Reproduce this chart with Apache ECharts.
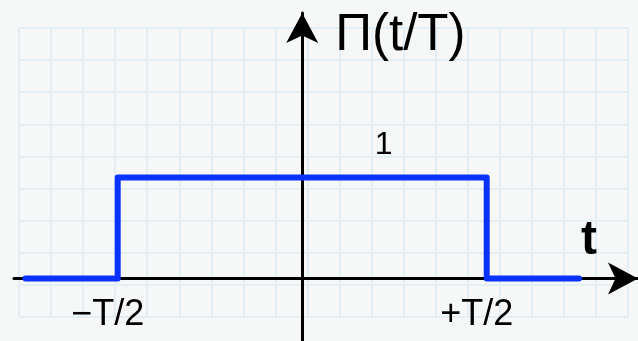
<!DOCTYPE html>
<html>
<head>
<meta charset="utf-8">
<script src="https://cdn.jsdelivr.net/npm/echarts@6/dist/echarts.min.js"></script>
<style>
html,body{margin:0;padding:0;background:#f6f8f8;}
#chart{width:638px;height:341px;}
</style>
</head>
<body>
<div id="chart"></div>
<script>
// Rectangle function Π(t/T), with T = 1
const tValues = [-0.75, -0.5, -0.5, 0.5, 0.5, 0.75];
const pulseValues = [0, 0, 1, 1, 0, 0];
const tickValues = [-0.5, 0.5];
const tickLabels = ['\u2212T/2', '+T/2'];
const levelX = [0.221];
const levelY = [1];
const levelText = ['1'];
const xAxisName = 't';
const yAxisName = '\u03A0(t/T)';

const FONT = '"Liberation Sans", Arial, Helvetica, sans-serif';

const chart = echarts.init(document.getElementById('chart'), null, {renderer: 'canvas'});

const pulseData = tValues.map((t, i) => [t, pulseValues[i]]);
const levelData = levelX.map((x, i) => [x, levelY[i], levelText[i]]);
const tickData = tickValues.map((v, i) => [v, 0, tickLabels[i]]);

const option = {
  backgroundColor: '#f6f8f8',
  animation: false,
  grid: [
    {left: 14, right: 0, top: 13, bottom: 0, containLabel: false, outerBoundsMode: 'none'},
    {left: 19, right: 10, top: 28, bottom: 24, containLabel: false, outerBoundsMode: 'none'}
  ],
  xAxis: [
    {
      type: 'value', gridIndex: 0, min: -0.781, max: 0.910, z: 1,
      axisLine: {show: true, onZero: true, symbol: ['none', 'arrow'], symbolSize: [24, 30],
        lineStyle: {color: '#000', width: 3}},
      axisTick: {show: false},
      splitLine: {show: false},
      axisLabel: {show: false},
      name: xAxisName, nameLocation: 'end', nameGap: -57,
      nameTextStyle: {fontFamily: FONT, fontSize: 48, fontWeight: 'bold', lineHeight: 48,
        color: '#000', align: 'left', verticalAlign: 'bottom', padding: [0, 0, 14, 0]}
    },
    {
      type: 'value', gridIndex: 1, min: 0, max: 19, interval: 1, z: 0,
      axisLine: {show: false}, axisTick: {show: false}, axisLabel: {show: false},
      splitLine: {show: true, lineStyle: {color: '#e3eff5', width: 2}}
    }
  ],
  yAxis: [
    {
      type: 'value', gridIndex: 0, min: -0.619, max: 2.629, z: 1,
      axisLine: {show: true, onZero: true, symbol: ['none', 'arrow'], symbolSize: [24, 30],
        lineStyle: {color: '#000', width: 3}},
      axisTick: {show: false},
      splitLine: {show: false},
      axisLabel: {show: false},
      name: yAxisName, nameLocation: 'end', nameGap: 3,
      nameTextStyle: {fontFamily: FONT, fontSize: 51, lineHeight: 51, color: '#000',
        align: 'left', verticalAlign: 'top', padding: [0, 0, 0, 33]}
    },
    {
      type: 'value', gridIndex: 1, min: 0, max: 9, interval: 1, inverse: true, z: 0,
      axisLine: {show: false}, axisTick: {show: false}, axisLabel: {show: false},
      splitLine: {show: true, lineStyle: {color: '#e3eff5', width: 2}}
    }
  ],
  series: [
    {
      type: 'line', xAxisIndex: 0, yAxisIndex: 0, data: pulseData,
      showSymbol: false, symbol: 'none', z: 3,
      lineStyle: {color: '#0a32ff', width: 6, cap: 'round', join: 'round'}
    },
    {
      type: 'scatter', xAxisIndex: 0, yAxisIndex: 0, data: levelData,
      symbolSize: 0, z: 4, silent: true,
      itemStyle: {color: '#000', opacity: 1},
      label: {show: true, position: 'top', distance: 16, formatter: p => p.data[2],
        fontFamily: FONT, fontSize: 32, lineHeight: 32, color: '#000', opacity: 1}
    },
    {
      type: 'scatter', xAxisIndex: 0, yAxisIndex: 0, data: tickData,
      symbolSize: 0, z: 4, silent: true,
      itemStyle: {color: '#000', opacity: 1},
      label: {show: true, position: 'bottom', distance: 19, offset: [-10, 0],
        formatter: p => p.data[2],
        fontFamily: FONT, fontSize: 36, lineHeight: 36, color: '#000', opacity: 1}
    }
  ]
};
chart.setOption(option);
</script>
</body>
</html>
